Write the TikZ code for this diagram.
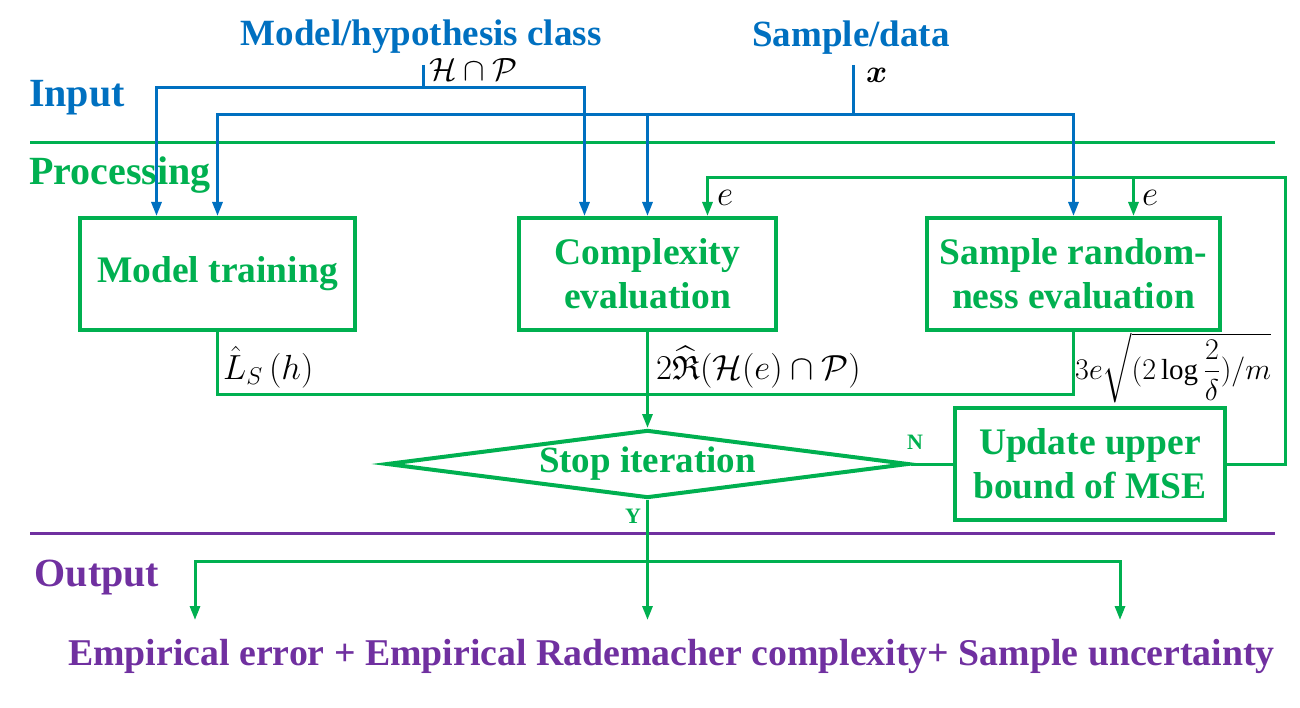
\documentclass[tikz,border=0pt]{standalone}
\usepackage{amsmath,amssymb}
\usepackage{graphicx}
\usepackage{fontspec}
\setmainfont{Liberation Serif}
\usepackage{tikz}
\usetikzlibrary{shapes,arrows,positioning,calc,arrows.meta}
\definecolor{inblue}{RGB}{0,112,192}
\definecolor{procgreen}{RGB}{0,176,80}
\definecolor{outpurple}{RGB}{112,48,160}
% math is set at 20pt and scaled up
\newcommand{\bigmath}[2]{\scalebox{#1}{$#2$}}

\begin{document}
\begin{tikzpicture}[x=1pt,y=-1pt,
    section/.style={font=\fontsize{40}{44}\selectfont\bfseries},
    head/.style={font=\fontsize{37}{40}\selectfont\bfseries, inblue},
    procbox/.style={draw=procgreen, line width=4pt, text=procgreen, align=center,
        minimum height=112pt, inner sep=0pt, font=\fontsize{37.5}{44}\selectfont\bfseries},
    mathlbl/.style={font=\fontsize{20}{22}\selectfont, inner sep=0pt},
    yn/.style={font=\fontsize{22}{24}\selectfont\bfseries, procgreen},
    inline/.style={inblue, line width=3pt},
    inarrow/.style={inline, -{Triangle[length=14pt,width=10pt]}},
    flow/.style={procgreen, line width=3pt},
    flowarrow/.style={flow, -{Triangle[length=14pt,width=10pt]}}]
    \useasboundingbox (0,0) rectangle (1300,708);

    % stage separators and labels
    \draw[procgreen, line width=3pt] (30,143) -- (1275,143);
    \draw[outpurple, line width=3pt] (30,533) -- (1275,533);
    \node[section, inblue] (inLbl) at (77,98) {Input};
    \node[section, procgreen] (procLbl) at (120,175) {Processing};
    \node[section, outpurple] (outLbl) at (97,578) {Output};

    % inputs
    \node[head] (hp) at (421,37) {Model/hypothesis class};
    \node[head] (sd) at (851,38) {Sample/data};
    \node[mathlbl, anchor=west] (hpSym) at (429,70) {\bigmath{1.55}{\mathcal{H}\cap\mathcal{P}}};
    \node[mathlbl, anchor=west] (xSym) at (866,75) {\bigmath{1.55}{\boldsymbol{x}}};
    \coordinate (hpTick) at (423,65);
    \coordinate (hpJ) at (423,88);
    \coordinate (sdTick) at (853,65);
    \coordinate (sdJ) at (853,115);

    % processing blocks
    \node[procbox, minimum width=275pt] (train) at (217.5,274) {Model training};
    \node[procbox, minimum width=257pt] (cplx) at (647.5,274) {Complexity\\evaluation};
    \node[procbox, minimum width=293pt] (samp) at (1073.5,274) {Sample random-\\ness evaluation};
    \node[procbox, minimum width=270pt] (upd) at (1090,464) {Update upper\\bound of MSE};
    \node[draw=procgreen, line width=4pt, diamond, aspect=7.7, minimum width=522pt,
        minimum height=68pt, inner sep=0pt, text=procgreen,
        font=\fontsize{37}{40}\selectfont\bfseries] (stop) at (647.5,464) {Stop iteration};

    \draw[inline] (hpTick) -- (hpJ);
    \draw[inarrow] (hpJ) -| ([xshift=-61pt]train.north);
    \draw[inarrow] (hpJ) -| ([xshift=-63pt]cplx.north);
    \draw[inline] (sdTick) -- (sdJ);
    \draw[inarrow] (sdJ) -| (train.north);
    \draw[inarrow] (sdJ) -| (cplx.north);
    \draw[inarrow] (sdJ) -| (samp.north);

    % feedback of e
    \coordinate (fbTop) at (1285,178);
    \draw[flowarrow] (upd.east) -| (fbTop) -| ([xshift=60pt]cplx.north);
    \draw[flowarrow] ([xshift=60pt]samp.north |- fbTop) -- ([xshift=60pt]samp.north);
    \node[mathlbl, anchor=west] (e1) at (717,198) {\bigmath{1.7}{e}};
    \node[mathlbl, anchor=west] (e2) at (1142,198) {\bigmath{1.7}{e}};

    % bound terms
    \draw[flow] (train.south) -- ++(0,62) -| (samp.south);
    \draw[flowarrow] (cplx.south) -- (stop.north);
    \node[mathlbl, anchor=west] (lossLbl) at (223,367) {\bigmath{1.68}{\hat{L}_S\left(h\right)}};
    \node[mathlbl, anchor=west] (radLbl) at (656,367)
        {\bigmath{1.68}{2\widehat{\mathfrak{R}}(\mathcal{H}(e)\cap\mathcal{P})}};
    \node[mathlbl, anchor=west] (devLbl) at (1075,368)
        {\bigmath{1.45}{3e\sqrt{(2\log\dfrac{2}{\delta})/m}}};

    \draw[flow] (stop.east) -- (upd.west);
    \node[yn] (nLbl) at (915,442) {N};
    \node[yn] (yLbl) at (633,516) {Y};

    % outputs
    \coordinate (outJ) at (647.5,561);
    \coordinate (o1) at (195,620);
    \coordinate (o2) at (647.5,620);
    \coordinate (o3) at (1120,620);
    \draw[flow] (stop.south) -- (outJ);
    \draw[flowarrow] (outJ) -- (o2);
    \draw[flowarrow] (outJ) -| (o1);
    \draw[flowarrow] (outJ) -| (o3);
    \node[font=\fontsize{37.8}{40}\selectfont\bfseries, text=outpurple] (res) at (671.5,656)
        {Empirical error + Empirical Rademacher complexity+ Sample uncertainty};
\end{tikzpicture}
\end{document}
